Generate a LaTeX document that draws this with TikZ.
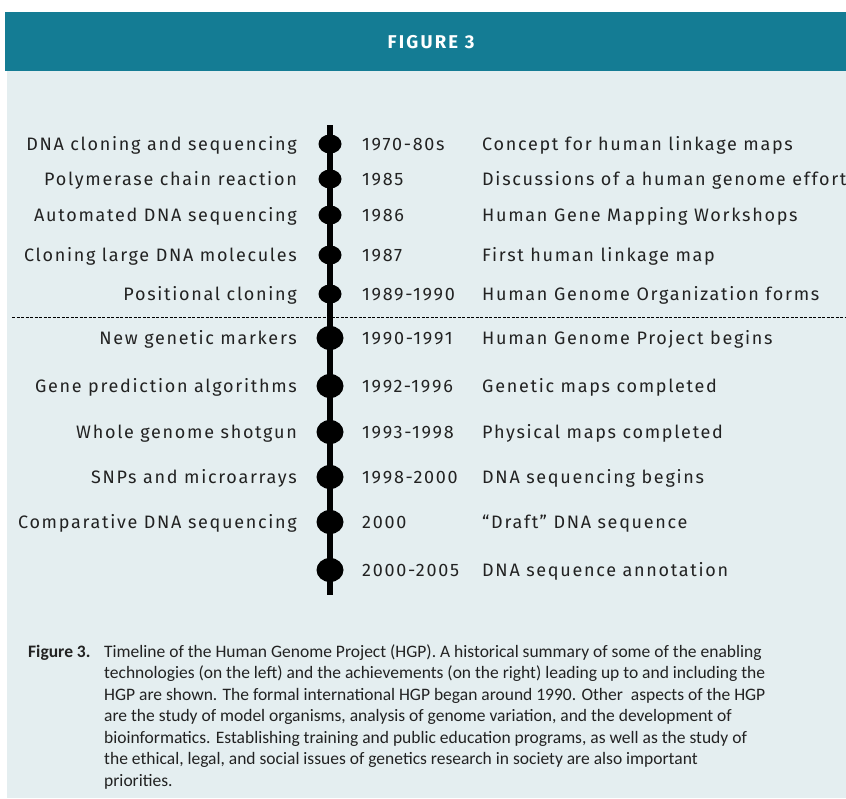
\documentclass[tikz,border=0pt]{standalone}
\usepackage{fontspec}
\usetikzlibrary{shapes.geometric}
\newfontfamily\rowfont[LetterSpace=9.5]{Fira Sans}
\newfontfamily\headfont[LetterSpace=12]{Fira Sans}
\newfontfamily\capfont{Carlito}
\definecolor{teal}{HTML}{147C94}
\definecolor{panel}{HTML}{E4EEF0}
\definecolor{ink}{HTML}{222222}
\tikzset{
  lefttxt/.style={anchor=base east,inner sep=0,font=\rowfont\fontsize{18}{20}\selectfont,text=ink},
  yeartxt/.style={anchor=base west,inner sep=0,font=\rowfont\fontsize{18}{20}\selectfont,text=ink},
  righttxt/.style={anchor=base west,inner sep=0,font=\rowfont\fontsize{18}{20}\selectfont,text=ink},
  smalldot/.style={ellipse,fill=black,inner sep=0,minimum width=23,minimum height=19},
  bigdot/.style={ellipse,fill=black,inner sep=0,minimum width=27,minimum height=24},
  capline/.style={anchor=base west,inner sep=0,font=\capfont\fontsize{17.5}{21}\selectfont,text=ink},
}
\begin{document}
\begin{tikzpicture}[x=1pt,y=-1pt]
  % canvas, header band and panel
  \fill[white] (0,0) rectangle (846,798);
  \useasboundingbox (0,0) rectangle (846,798);
  \fill[panel] (7,71) rectangle (846,798);
  \fill[teal] (5,12) rectangle (846,71);
  \node[anchor=base,inner sep=0,text=white,font=\headfont\bfseries\fontsize{18.5}{20}\selectfont] (title) at (431,48) {FIGURE 3};

  % separator between the early period and the HGP proper
  \coordinate (sepL) at (12,317);
  \coordinate (sepR) at (846,317);
  \draw[black,line width=1pt,dash pattern=on 3pt off 1.5pt] (sepL) -- (sepR);

  % time axis
  \coordinate (axisTop) at (330,125);
  \coordinate (axisBot) at (330,595);
  \draw[black,line width=6pt] (axisTop) -- (axisBot);

  % rows: y, technology, years, achievement
  \foreach \y/\tech/\yr/\ach/\dotstyle [count=\i] in {
    144/DNA cloning and sequencing/1970-80s/Concept for human linkage maps/smalldot,
    179/Polymerase chain reaction/1985/Discussions of a human genome effort/smalldot,
    215/Automated DNA sequencing/1986/Human Gene Mapping Workshops/smalldot,
    255/Cloning large DNA molecules/1987/First human linkage map/smalldot,
    294/Positional cloning/1989-1990/Human Genome Organization forms/smalldot,
    338/New genetic markers/1990-1991/Human Genome Project begins/bigdot,
    386/Gene prediction algorithms/1992-1996/Genetic maps completed/bigdot,
    432/Whole genome shotgun/1993-1998/Physical maps completed/bigdot,
    477/SNPs and microarrays/1998-2000/DNA sequencing begins/bigdot,
    522/Comparative DNA sequencing/2000/“Draft” DNA sequence/bigdot,
    570//2000-2005/DNA sequence annotation/bigdot}{
    \node[\dotstyle] (dot\i) at (330,\y) {};
    \node[lefttxt] (tech\i) at (297,\y+6.5) {\tech};
    \node[yeartxt] (year\i) at (362,\y+6.5) {\yr};
    \node[righttxt] (ach\i) at (482,\y+6.5) {\ach};
  }

  % caption
  \node[capline] (capfig) at (28,657) {\bfseries Figure 3.};
  \node[capline] (cap1) at (104,657) {Timeline of the Human Genome Project (HGP). A historical summary of some of the enabling};
  \node[capline] (cap2) at (104,678.5) {technologies (on the left) and the achievements (on the right) leading up to and including the};
  \node[capline] (cap3) at (104,700) {HGP are shown. The formal international HGP began around 1990. Other\ \ aspects of the HGP};
  \node[capline] (cap4) at (104,721.5) {are the study of model organisms, analysis of genome variation, and the development of};
  \node[capline] (cap5) at (104,743) {bioinformatics. Establishing training and public education programs, as well as the study of};
  \node[capline] (cap6) at (104,764.5) {the ethical, legal, and social issues of genetics research in society are also important};
  \node[capline] (cap7) at (104,786) {priorities.};
\end{tikzpicture}
\end{document}
